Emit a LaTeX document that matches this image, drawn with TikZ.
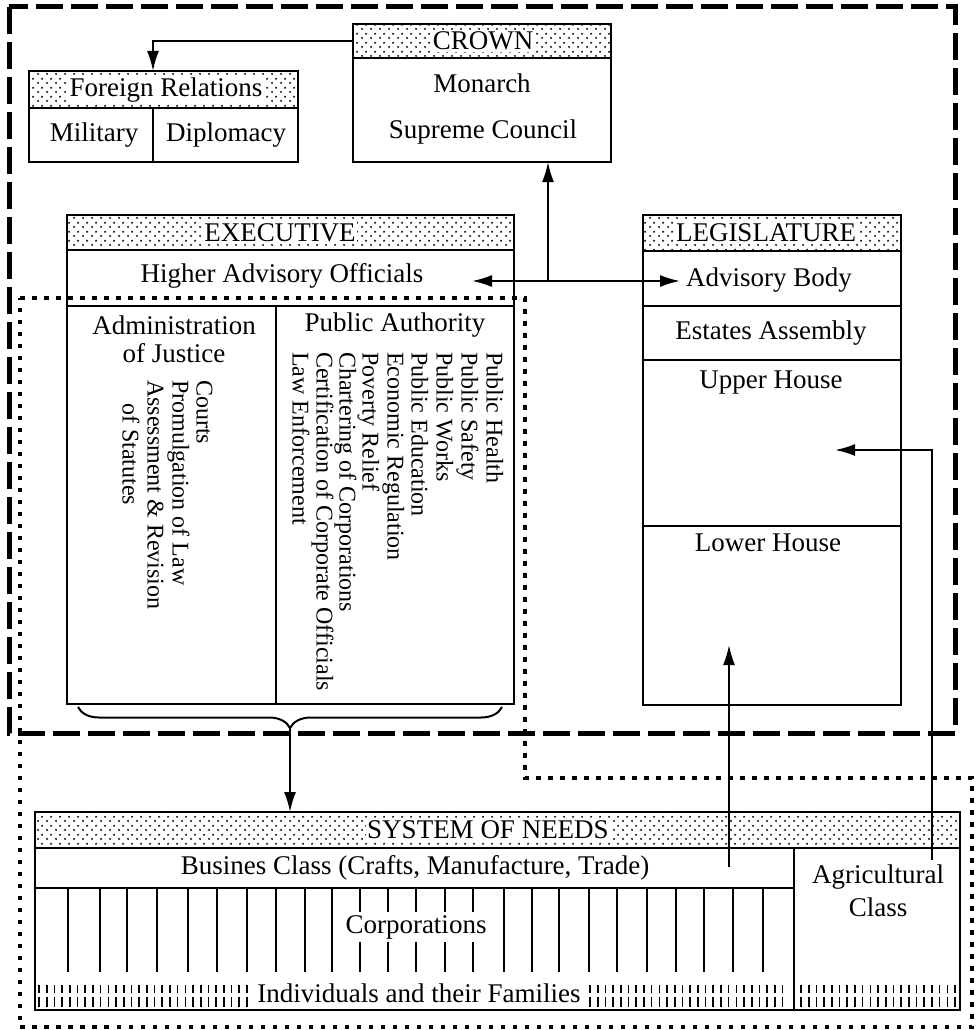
\documentclass[tikz,border=0pt]{standalone}
\usepackage{fontspec}
\setmainfont{Liberation Serif}
\usetikzlibrary{arrows.meta,patterns.meta,decorations.pathreplacing}
\tikzdeclarepattern{
  name=hdots,
  bounding box={(0pt,0pt) and (9pt,9pt)},
  tile size={(9pt,9pt)},
  code={
    \fill (2.25pt,2.25pt) circle (1.2pt);
    \fill (6.75pt,6.75pt) circle (1.2pt);
  }
}
\newcommand\hfont{\fontsize{27}{31}\selectfont}
\newcommand\rfont{\fontsize{24}{26}\selectfont}
\begin{document}
\begin{tikzpicture}[x=1pt,y=-1pt,
  cell/.style={draw, line width=2.6pt, inner sep=0pt, outer sep=0pt, anchor=north west},
  head/.style={cell, pattern=hdots},
  lbl/.style={font=\hfont, inner sep=1pt},
  hl/.style={font=\hfont, fill=white, inner sep=1.5pt},
  rot/.style={font=\rfont, rotate=-90, anchor=west, inner sep=0pt, text height=17pt, text depth=6pt},
  arr/.style={line width=2pt, -{Latex[length=20pt,width=12pt]}},
  bigdash/.style={line width=5pt, dash pattern=on 27pt off 8pt},
  bigdot/.style={line width=4.5pt, dash pattern=on 4.5pt off 7.5pt},
  vl/.style={line width=2.2pt},
  tk/.style={line width=1.6pt},
]
\useasboundingbox (0,0) rectangle (976,1030);

% region borders
\draw[bigdash] (9,7) rectangle (955,733);
\draw[bigdot] (20,298) -- (525,298) -- (525,778) -- (972,778) -- (972,1027) -- (20,1027) -- cycle;

% Foreign relations
\node[head, minimum width=269pt, minimum height=37pt] (fhead) at (29,71) {};
\node[cell, minimum width=124pt, minimum height=54pt] (fmil) at (29,108) {};
\node[cell, minimum width=145pt, minimum height=54pt] (fdip) at (153,108) {};
\node[hl] (tf) at (166,90) {Foreign Relations};
\node[lbl] (tmil) at (94,135) {Military};
\node[lbl] (tdip) at (226,135) {Diplomacy};

% Crown
\node[head, minimum width=258pt, minimum height=34pt] (chead) at (353,24) {};
\node[cell, minimum width=258pt, minimum height=104pt] (cbody) at (353,58) {};
\node[hl] (tc) at (483,41) {CROWN};
\node[lbl] (tmon) at (482,83) {Monarch};
\node[lbl] (tsup) at (483,132) {Supreme Council};

% Executive
\node[head, minimum width=447pt, minimum height=35pt] (ehead) at (67,215) {};
\node[cell, minimum width=447pt, minimum height=56pt] (eadv) at (67,250) {};
\node[cell, minimum width=209pt, minimum height=398pt] (ejus) at (67,306) {};
\node[cell, minimum width=238pt, minimum height=398pt] (epub) at (276,306) {};
\node[hl] (te) at (280,233) {EXECUTIVE};
\node[lbl] (thao) at (282,276) {Higher Advisory Officials};
\node[lbl] (tadm1) at (174,325) {Administration};
\node[lbl] (tadm2) at (174,353) {of Justice};
\node[lbl] (tpa) at (395,325) {Public Authority};
\node[rot] (j1) at (202,380) {Courts};
\node[rot] (j2) at (178,380) {Promulgation of Law};
\node[rot] (j3) at (153,380) {Assessment \& Revision};
\node[rot] (j4) at (128,403) {of Statutes};
\node[rot] (p1) at (492,352) {Public Health};
\node[rot] (p2) at (467,352) {Public Safety};
\node[rot] (p3) at (442,352) {Public Works};
\node[rot] (p4) at (417,352) {Public Education};
\node[rot] (p5) at (393,352) {Economic Regulation};
\node[rot] (p6) at (368,352) {Poverty Relief};
\node[rot] (p7) at (345,352) {Chartering of Corporations};
\node[rot] (p8) at (322,352) {Certification of Corporate Officials};
\node[rot] (p9) at (298,352) {Law Enforcement};

% Legislature
\node[head, minimum width=258pt, minimum height=36pt] (lhead) at (643,215) {};
\node[cell, minimum width=258pt, minimum height=55pt] (ladv) at (643,251) {};
\node[cell, minimum width=258pt, minimum height=54pt] (lest) at (643,306) {};
\node[cell, minimum width=258pt, minimum height=166pt] (lup) at (643,360) {};
\node[cell, minimum width=258pt, minimum height=179pt] (llow) at (643,526) {};
\node[hl] (tl) at (766,233) {LEGISLATURE};
\node[lbl] (tab) at (769,280) {Advisory Body};
\node[lbl] (tea) at (771,333) {Estates Assembly};
\node[lbl] (tuh) at (771,383) {Upper House};
\node[lbl] (tlh) at (768,543) {Lower House};

% System of needs
\node[head, minimum width=925pt, minimum height=36pt] (nhead) at (35,812) {};
\node[cell, minimum width=759pt, minimum height=40pt] (nbus) at (35,848) {};
\node[cell, minimum width=759pt, minimum height=122pt] (ncorp) at (35,888) {};
\node[cell, minimum width=166pt, minimum height=162pt] (nagr) at (794,848) {};
\node[hl] (tn) at (488,830) {SYSTEM OF NEEDS};
\node[lbl] (tbus) at (415,868) {Busines Class (Crafts, Manufacture, Trade)};
\node[lbl] (tag1) at (878,877) {Agricultural};
\node[lbl] (tag2) at (878,907) {Class};
\node[lbl] (tcorp) at (416,927) {Corporations};
\node[lbl] (tind) at (419,993) {Individuals and their Families};

\foreach \x in {68,100,127,157,188,217,247,276,305,332,504,532,559,589,617,647,676,704,733,763}
  \draw[vl] (\x,888) -- (\x,972);
\foreach \x in {360,388,416,445,473} {
  \draw[vl] (\x,888) -- (\x,912);
  \draw[vl] (\x,942) -- (\x,972);
}
\foreach \x in {39,46.7,...,248} {
  \draw[tk] (\x,985) -- (\x,993);
  \draw[tk] (\x,997) -- (\x,1007);
}
\foreach \x in {590,597.7,...,790} {
  \draw[tk] (\x,985) -- (\x,993);
  \draw[tk] (\x,997) -- (\x,1007);
}
\foreach \x in {801,808.7,...,957} {
  \draw[tk] (\x,985) -- (\x,993);
  \draw[tk] (\x,997) -- (\x,1007);
}

% connectors
\coordinate (j) at (548,281);
\coordinate (haoR) at (472,281);
\coordinate (abL) at (680,281);
\draw[arr] (j) -- (haoR);
\draw[arr] (j) -- (abL);
\draw[arr] (j) -- (j |- cbody.south);
\draw[arr] (chead.west) -| (fhead.north -| fmil.east);

\draw[line width=2pt, decorate, decoration={brace, mirror, amplitude=21pt}] (78,707) -- (502,707);
\coordinate (btip) at (290,728);
\draw[arr] (btip) -- (btip |- nhead.north);

\coordinate (agS) at (932,860);
\coordinate (upT) at (835,450);
\draw[arr] (agS) |- (upT);
\coordinate (buS) at (729,867);
\coordinate (lowT) at (729,645);
\draw[arr] (buS) -- (lowT);
\end{tikzpicture}
\end{document}
